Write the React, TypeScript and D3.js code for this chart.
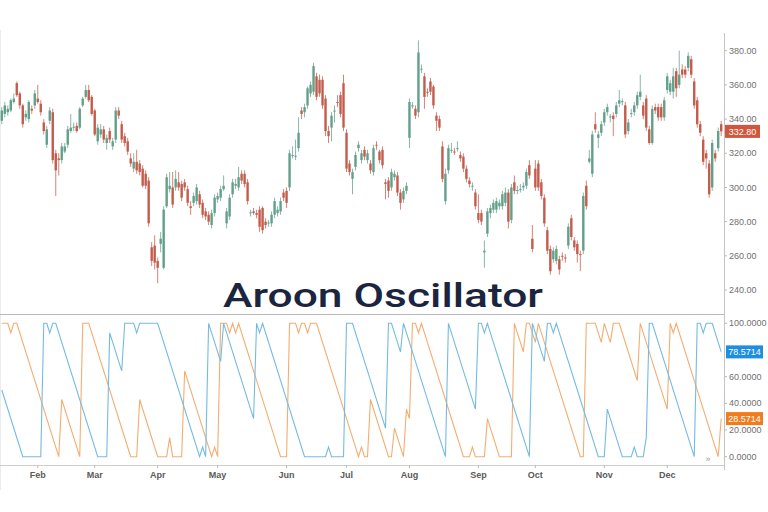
import React from "react";
import * as d3 from "d3";

// ---- Price data (daily OHLC) ----
const opens = [339,343,344,345,350,361,355,348,341,340,346,348,352,349,338,325,339,344,320,317,316,321,325,333,335,336,335,348,353,357,353,345,327,331,334,326,333,324,328,345,337,330,327,317,311,315,314,311,308,304,265,266,257,267,253,289,299,300,300,303,302,303,299,289,291,292,296,291,286,284,278,285,293,294,299,279,283,296,301,300,308,308,303,285,286,285,287,288,280,279,279,284,285,286,297,298,300,319,318,323,345,344,348,355,356,365,363,363,352,333,335,345,350,354,361,332,314,305,312,323,316,322,316,314,309,325,321,322,303,304,300,306,307,297,293,298,329,348,346,344,369,365,356,362,359,342,340,324,292,310,322,321,323,319,318,311,304,301,297,285,285,262,273,285,287,287,289,289,291,297,281,303,298,299,300,301,313,270,311,314,303,294,275,264,258,257,258,260,259,266,282,269,267,261,263,301,315,308,337,329,332,338,344,341,342,343,349,350,348,333,343,344,348,353,348,352,334,326,347,347,347,341,357,356,356,368,360,369,369,370,375,362,351,337,328,320,314,300,320,323,337];
const highs = [347,350,348,352,355,362,356,349,345,351,348,357,360,351,340,336,347,346,322,320,326,326,336,343,338,338,347,353,360,360,354,346,337,337,336,331,335,329,347,347,339,332,329,320,320,322,316,313,310,306,268,272,259,274,289,308,309,309,310,309,304,305,301,292,297,302,298,293,288,286,287,296,297,301,307,288,296,305,305,312,310,310,305,287,288,287,289,289,282,281,286,294,289,294,299,300,322,324,328,341,347,349,359,362,373,367,366,365,354,336,344,348,354,356,366,334,316,311,321,327,322,324,322,316,325,327,322,324,305,306,311,310,309,299,300,303,352,350,348,386,372,367,358,364,360,344,342,327,311,325,326,323,327,321,320,313,306,303,299,296,287,269,288,290,293,294,293,298,300,299,302,307,301,302,303,311,316,278,316,316,305,296,277,266,265,266,260,262,261,279,284,271,269,263,297,304,322,333,344,333,339,346,349,343,344,350,357,352,350,340,346,350,356,366,350,354,336,348,349,349,349,353,367,363,370,370,380,372,371,379,377,364,353,339,330,322,316,328,322,335,339];
const lows = [337,341,342,344,349,353,346,335,339,338,343,346,349,342,331,323,337,314,295,307,314,320,323,332,333,332,334,347,352,350,342,330,325,329,326,322,326,322,326,340,326,324,319,312,309,308,307,300,299,277,254,252,244,262,252,288,297,288,298,298,292,298,289,284,289,290,288,282,281,278,276,283,291,292,298,276,281,294,299,298,302,300,290,283,284,282,274,273,276,277,277,282,283,284,292,288,298,317,316,321,340,341,346,353,354,351,353,346,330,326,327,338,347,341,333,309,307,296,310,321,314,316,314,308,307,322,314,311,293,294,298,304,295,287,291,296,323,346,340,341,367,346,353,354,346,333,333,303,290,308,320,319,321,315,309,303,300,298,287,279,278,253,271,282,285,285,287,287,289,276,279,296,296,297,298,299,305,262,298,298,293,277,261,249,256,255,249,257,256,264,269,263,256,251,261,287,314,306,332,323,330,336,342,338,330,341,347,348,329,331,341,342,346,351,340,333,325,325,343,339,339,339,355,354,352,353,358,364,364,368,364,346,335,330,313,311,294,298,315,321,330];
const closes = [345,348,346,351,352,354,348,337,343,350,345,355,350,344,333,334,345,316,310,316,324,324,334,335,335.5,333,346,352,357,351,343,331,335,334,328,329,328,327,345,342,328,326,321,314,315,310,309,301,301,279,257,256,253,270,287,306,301,290,305,300,294,300,291,288,295,300,290,284,283,280,285,294,295,299,301,286,294,303,302,306,304,302,292,285.5,285,284,277,275,278,279.5,284,292,287,292,294,291,320,319,318.5,332,343,347,358,360,371,353,355,348,333,330,342,345,349.5,343,335,311,309,309,319,325,320,318,320,310,323,324.5,316,313,302,298,309,308,297,291,298,301,350,348,342,379,369.5,353,355.5,356,348,339,335,305,308,323,322,320.5,323,317,311,305,302,301,289,281,280,263,286,288,291,292,291,296,297,280,300,298,298.5,299,301,309,307,264,300,300,295,279,263,251,263,264,252,259.5,258.5,277,271,265,261,260.5,295,289,317,331,334,331,337,344,347,341.5,340,348,351,350.5,331,338,343.5,348,354,356,342,335,326,346,345,341,341,351,365,361,365,358,366,366,366,377,366,348,337,332,315,317,296,326,317,333,332.8];

// ---- Time axis ----
const monthLabels = ["Feb", "Mar", "Apr", "May", "Jun", "Jul", "Aug", "Sep", "Oct", "Nov", "Dec"];
const monthIdx = [12, 31, 52, 72, 95, 115, 136, 159, 178, 201, 222];

// ---- Axis ticks ----
const priceTicks = [240, 260, 280, 300, 320, 340, 360, 380];
const oscTicks = [0, 20, 40, 60, 100];

// ---- Aroon (14) vertices ----
const upIdx = [0,2,3,4,5,19,20,26,27,29,43,45,46,52,55,56,57,60,61,70,71,72,73,75,76,77,78,79,93,95,96,98,99,100,101,102,103,105,119,120,121,122,123,129,130,131,134,135,136,137,138,139,140,154,156,157,158,161,162,166,170,171,174,175,176,178,179,193,194,195,198,200,201,203,204,206,212,213,222,223,224,225,239,240];
const upVal = [100,100,92.86,100,100,0,42.86,0,100,100,0,0,42.86,0,0,14.29,0,0,64.29,0,7.14,0,100,100,92.86,100,92.86,100,0,0,100,100,92.86,100,100,92.86,100,100,0,7.14,0,0,42.86,0,0,21.43,0,35.71,28.57,100,100,92.86,100,0,0,7.14,0,0,28.57,0,0,100,78.57,100,100,85.71,100,0,0,100,100,85.71,100,85.71,100,100,57.14,100,35.71,100,92.86,100,0,28.5714];
const downIdx = [0,7,13,14,15,16,17,18,32,35,36,40,41,44,45,46,52,66,67,68,69,73,74,84,85,86,87,101,108,109,110,114,115,117,128,129,130,133,134,148,149,158,159,160,161,162,176,177,181,182,183,184,185,199,201,202,207,210,211,212,214,215,216,217,231,232,233,234,235,237,240];
const downVal = [50,0,0,100,100,92.86,100,100,0,0,92.86,64.29,100,100,92.86,100,100,0,7.14,0,100,71.43,100,28.57,100,92.86,100,0,0,7.14,0,0,100,100,21.43,100,100,78.57,100,0,100,35.71,100,100,92.86,100,0,100,71.43,100,100,92.86,100,0,0,35.71,0,0,7.14,0,0,14.29,100,100,0,100,100,92.86,100,100,78.5714];

const UP_COLOR = "#62a08a";
const DOWN_COLOR = "#c45c4c";
const AROON_UP = "#f4ad70";
const AROON_DOWN = "#74bbe2";
const AXIS_TEXT = "#707070";

export default function App() {
  const W = 768, H = 512;
  const axisX = 724;
  const idx = d3.range(opens.length);
  const x = d3.scaleBand<number>().domain(idx).range([0, 723]).padding(0.2);
  const cx = (i: number) => (x(i) as number) + x.bandwidth() / 2;
  const xl = d3.scaleLinear().domain([0, opens.length - 1]).range([cx(0), cx(opens.length - 1)]);
  const yP = d3.scaleLinear().domain([240, 380]).range([290, 50.7]);
  const yO = d3.scaleLinear().domain([0, 100]).range([456.7, 323.3]);

  const line = d3.line<[number, number]>().x((d) => xl(d[0])).y((d) => yO(d[1]));
  const upPath = line(upIdx.map((d, k) => [d, upVal[k]] as [number, number])) || "";
  const downPath = line(downIdx.map((d, k) => [d, downVal[k]] as [number, number])) || "";

  const lastClose = closes[closes.length - 1];
  const lastUp = upVal[upVal.length - 1];
  const lastDown = downVal[downVal.length - 1];
  const font = "'Liberation Sans', Arial, sans-serif";

  return (
    <svg width={W} height={H} style={{ position: "absolute", left: 0, top: 0, background: "#fff" }} fontFamily={font}>
      <rect x={0} y={0} width={W} height={H} fill="#fff" />
      <line x1={0.5} x2={0.5} y1={30} y2={490} stroke="#ececec" />
      {/* candles */}
      {idx.map((i) => {
        const up = closes[i] >= opens[i];
        const c = up ? UP_COLOR : DOWN_COLOR;
        const top = yP(Math.max(opens[i], closes[i]));
        const bot = yP(Math.min(opens[i], closes[i]));
        return (
          <g key={i}>
            <line x1={cx(i)} x2={cx(i)} y1={yP(highs[i])} y2={yP(lows[i])} stroke={c} strokeWidth={1} opacity={0.75} />
            <rect x={x(i)} y={top} width={x.bandwidth()} height={Math.max(1, bot - top)} fill={c} />
          </g>
        );
      })}
      {/* title */}
      <text x={383} y={307} textAnchor="middle" fontFamily="Roboto, 'DejaVu Sans', sans-serif" fontWeight={500} fontSize={33} fill="#1b2540" textLength={320} lengthAdjust="spacingAndGlyphs">Aroon Oscillator</text>
      {/* panel separators / axes */}
      <line x1={0} x2={axisX} y1={314.5} y2={314.5} stroke="#b9b9b9" />
      <line x1={0} x2={axisX} y1={465.5} y2={465.5} stroke="#cfcfcf" />
      <line x1={axisX + 0.5} x2={axisX + 0.5} y1={33} y2={470} stroke="#c4c4c4" />
      {/* aroon lines */}
      <path d={upPath} fill="none" stroke={AROON_UP} strokeWidth={1.1} />
      <path d={downPath} fill="none" stroke={AROON_DOWN} strokeWidth={1.1} />
      {/* price axis */}
      {priceTicks.map((t) => (
        <g key={"p" + t}>
          <line x1={axisX} x2={axisX + 3} y1={yP(t)} y2={yP(t)} stroke="#bbb" />
          <text x={729} y={yP(t)} dy="0.35em" fontSize={9} fill={AXIS_TEXT}>{t.toFixed(2)}</text>
        </g>
      ))}
      {oscTicks.map((t) => (
        <g key={"o" + t}>
          <line x1={axisX} x2={axisX + 3} y1={yO(t)} y2={yO(t)} stroke="#bbb" />
          <text x={729} y={yO(t)} dy="0.35em" fontSize={9} fill={AXIS_TEXT}>{t.toFixed(4)}</text>
        </g>
      ))}
      {/* last value labels */}
      <rect x={725} y={yP(lastClose) - 6.5} width={35} height={13} fill="#d0563e" />
      <text x={742.5} y={yP(lastClose)} dy="0.35em" textAnchor="middle" fontSize={9} fill="#fff">{lastClose.toFixed(2)}</text>
      <rect x={726} y={yO(lastDown) - 6.5} width={37} height={13} fill="#1e8ee0" />
      <text x={744.5} y={yO(lastDown)} dy="0.35em" textAnchor="middle" fontSize={9} fill="#fff">{lastDown.toFixed(4)}</text>
      <rect x={726} y={yO(lastUp) - 6.5} width={37} height={13} fill="#f07c1e" />
      <text x={744.5} y={yO(lastUp)} dy="0.35em" textAnchor="middle" fontSize={9} fill="#fff">{lastUp.toFixed(4)}</text>
      {/* time axis */}
      {monthLabels.map((m, k) => (
        <g key={m}>
          <line x1={cx(monthIdx[k])} x2={cx(monthIdx[k])} y1={465} y2={468} stroke="#bbb" />
          <text x={cx(monthIdx[k])} y={475} dy="0.35em" textAnchor="middle" fontSize={9} fontWeight="bold" fill="#5a5a5a">{m}</text>
        </g>
      ))}
      <text x={708} y={459} dy="0.35em" textAnchor="middle" fontSize={9} fill="#9a9a9a">»</text>
    </svg>
  );
}
